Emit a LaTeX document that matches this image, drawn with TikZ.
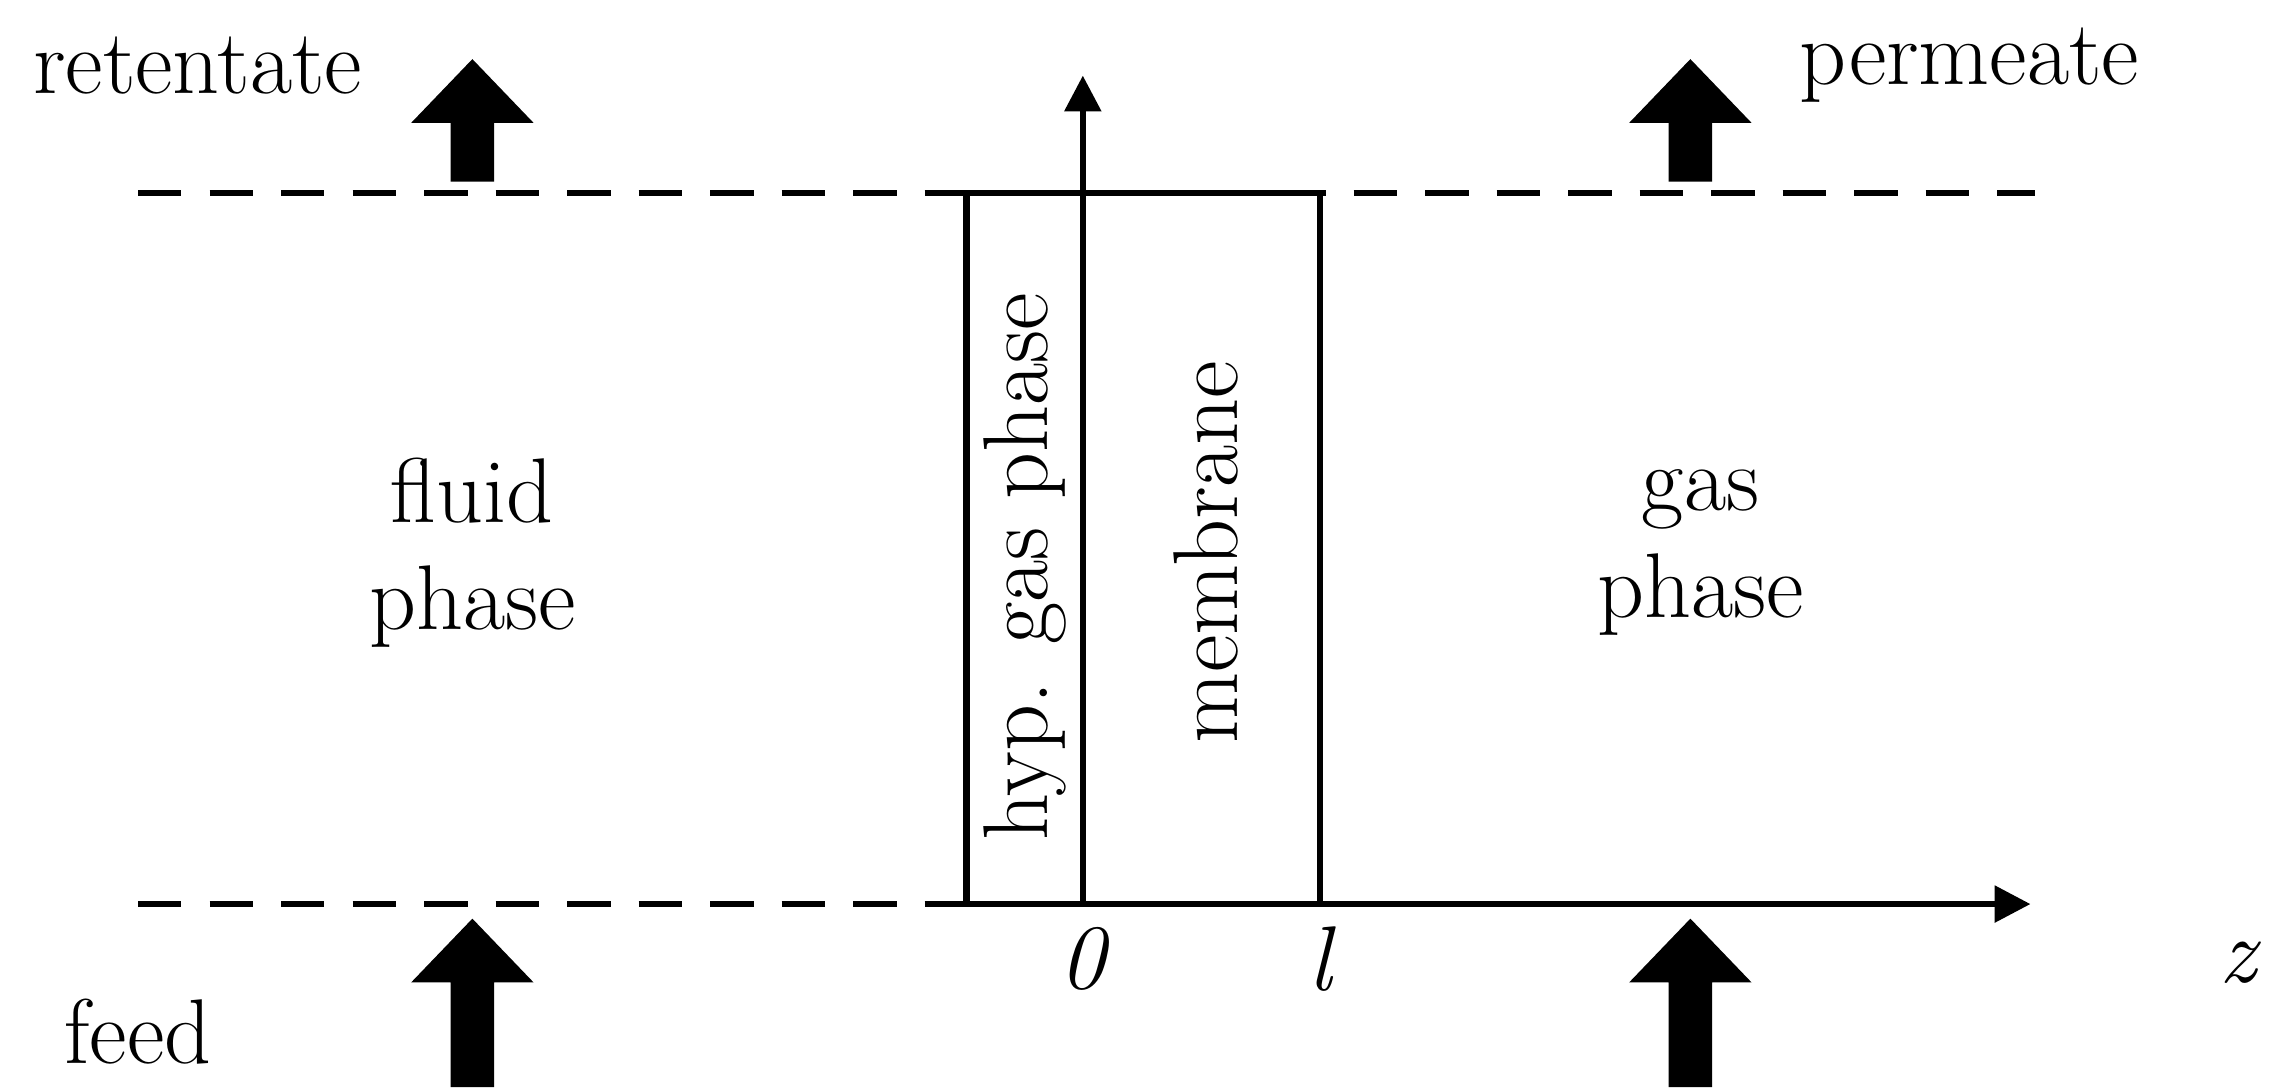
\documentclass[tikz,border=0pt]{standalone}
\usetikzlibrary{arrows.meta}
\tikzset{
  dash line/.style={line width=2.4pt, dash pattern=on 17pt off 11pt},
  solid line/.style={line width=2.4pt},
  lbl/.style={font=\fontsize{36}{42}\selectfont, align=center, inner sep=0pt},
  blockarrow/.pic={\fill[black] (-8.5pt,0) -- (8.5pt,0) -- (8.5pt,#1-25pt) -- (24pt,#1-25pt) -- (0,#1) -- (-24pt,#1-25pt) -- (-8.5pt,#1-25pt) -- cycle;}
}
\begin{document}
\begin{tikzpicture}[x=0.02cm,y=-0.02cm]
\useasboundingbox (0,0) rectangle (1568,748);
\coordinate (tl) at (95,133); \coordinate (tr) at (1400,133);
\coordinate (bl) at (95,622); \coordinate (bm) at (665,622); \coordinate (br) at (1397,622);
\draw[dash line] (tl) -- (tr);
\draw[dash line] (bl) -- (bm);
\draw[solid line,-{Triangle[length=14pt,width=14pt]}] (bm) -- (br);
\node[draw, solid line, minimum width=80*0.02cm, minimum height=489*0.02cm, inner sep=0pt] (hyp) at (705,377.5) {};
\node[draw, solid line, minimum width=163*0.02cm, minimum height=489*0.02cm, inner sep=0pt] (mem) at (826.5,377.5) {};
\coordinate (ax0) at (745,622); \coordinate (ax1) at (745,52);
\draw[solid line,-{Triangle[length=14pt,width=14pt]}] (ax0) -- (ax1);
\pic at (325,125) {blockarrow=48pt};
\pic at (1163,125) {blockarrow=48pt};
\pic at (325,748) {blockarrow=66pt};
\pic at (1163,748) {blockarrow=66pt};
\node[lbl] (ret) at (136,45) {retentate};
\node[lbl] (per) at (1355,45) {permeate};
\node[lbl] (feed) at (95,710) {feed};
\node[lbl] (fluid) at (325,380) {fluid\\phase};
\node[lbl] (gas) at (1170,380) {gas\\phase};
\node[lbl, rotate=90] (hypl) at (705,390) {hyp. gas phase};
\node[lbl, rotate=90] (meml) at (830,380) {membrane};
\node[lbl] (z0) at (745,660) {\itshape 0};
\node[lbl] (zl) at (908,660) {\itshape l};
\node[lbl] (zz) at (1540,662) {\itshape z};
\end{tikzpicture}
\end{document}
